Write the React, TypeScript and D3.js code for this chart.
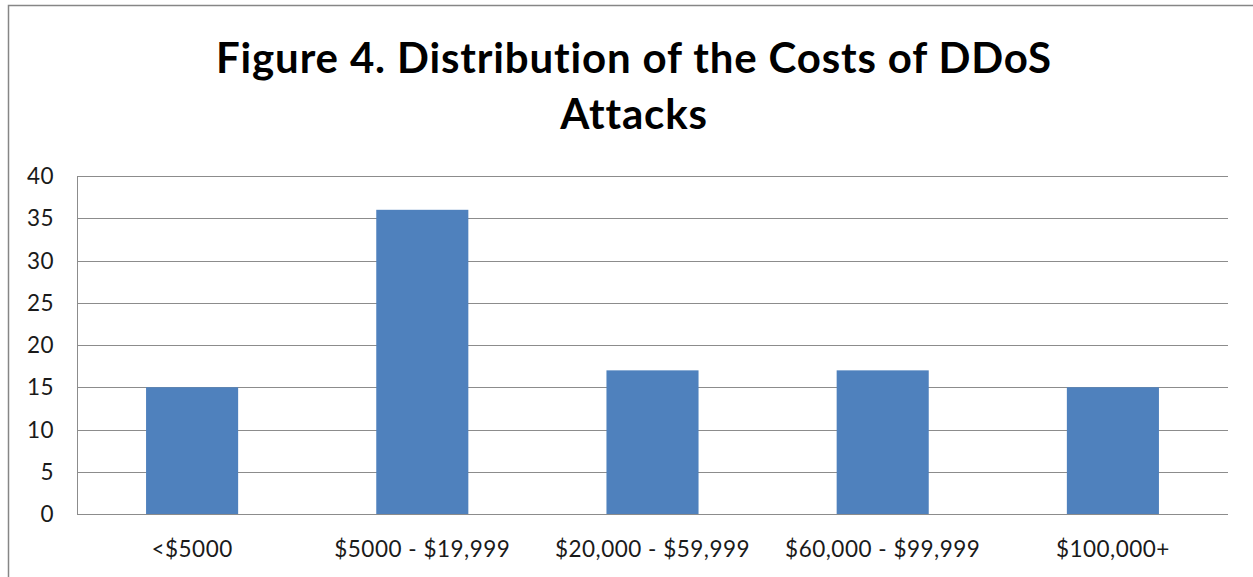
import React from "react";
import * as d3 from "d3";

const categories = ["<$5000", "$5000 - $19,999", "$20,000 - $59,999", "$60,000 - $99,999", "$100,000+"];
const values = [15, 36, 17, 17, 15];
const yTicks = [0, 5, 10, 15, 20, 25, 30, 35, 40];
const titleLines = ["Figure 4. Distribution of the Costs of DDoS", "Attacks"];

const W = 1253;
const H = 577;
const FONT = "Lato, 'Open Sans', sans-serif";

export default function App() {
  const left = 77, right = 1228, top = 176, bottom = 514;
  const x = d3.scaleBand<string>().domain(categories).range([left, right]).paddingInner(0.6).paddingOuter(0.3);
  const y = d3.scaleLinear().domain([0, 40]).range([bottom, top]);
  return (
    <svg width={W} height={H} style={{ position: "absolute", left: 0, top: 0, background: "#fff" }}>
      <rect x={8.5} y={5.5} width={W + 10} height={H + 10} fill="#fff" stroke="#868686" strokeWidth={1.5} />
      {titleLines.map((t, i) => (
        <text key={i} x={634} y={73 + i * 56} textAnchor="middle" fontFamily={FONT} fontWeight="bold" fontSize={42} letterSpacing={0.85} fill="#000">
          {t}
        </text>
      ))}
      {yTicks.map((t) => (
        <g key={t}>
          <line x1={left} x2={right} y1={Math.round(y(t)) + 0.5} y2={Math.round(y(t)) + 0.5} stroke="#8c8c8c" strokeWidth={1} />
          <text x={54} y={y(t) + 8} textAnchor="end" fontFamily={FONT} fontSize={22.5} letterSpacing={0.5} fill="#1a1a1a">
            {t}
          </text>
        </g>
      ))}
      <line x1={left + 0.5} x2={left + 0.5} y1={top} y2={bottom} stroke="#8c8c8c" strokeWidth={1} />
      {categories.map((c, i) => (
        <g key={c}>
          <rect x={x(c)} y={y(values[i])} width={x.bandwidth()} height={y(0) - y(values[i])} fill="#4F81BD" />
          <text x={(x(c) as number) + x.bandwidth() / 2} y={557} textAnchor="middle" fontFamily={FONT} fontSize={22.5} letterSpacing={0.5} fill="#1a1a1a">
            {c}
          </text>
        </g>
      ))}
    </svg>
  );
}
